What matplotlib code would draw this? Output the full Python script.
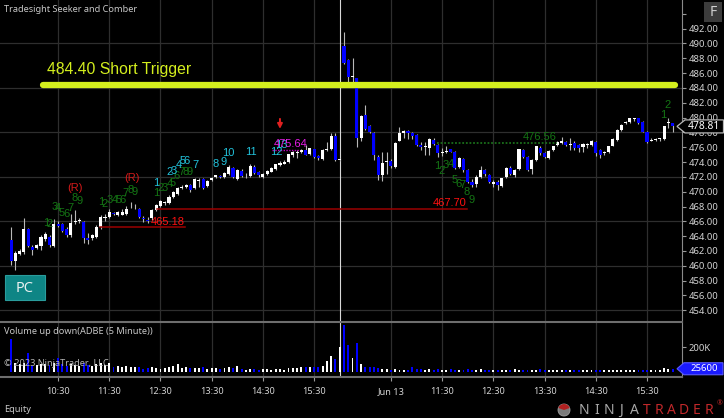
import matplotlib
matplotlib.use("Agg")
import matplotlib.pyplot as plt
from matplotlib.patches import Rectangle, Polygon, Circle, Wedge
import numpy as np

# ---------------- data (ADBE 5-minute bars, two sessions) ----------------
opens = [463.5, 460.6, 461.6, 461.8, 464.9, 462.5, 462.4, 462.7, 463.6, 463.85,
         462.7, 465.7, 465.6, 464.9, 464.15, 465.9, 466.0, 465.95, 463.8, 463.7,
         463.9, 465.2, 466.5, 466.6, 467.1, 466.85, 466.9, 467.0, 467.9, 467.9,
         467.6, 466.4, 466.2, 466.4, 467.55, 468.1, 468.5, 468.5, 469.3, 469.65,
         470.5, 470.6, 470.9, 470.45, 471.5, 471.7, 470.8, 471.6, 471.95, 472.15,
         472.0, 472.4, 473.25, 471.7, 472.8, 472.2, 472.1, 473.4, 472.7, 472.0,
         472.4, 472.7, 473.0, 473.6, 473.8, 474.0, 474.95, 475.2, 475.3, 475.6,
         475.1, 475.7, 474.8, 474.4, 475.6, 475.7, 477.5, 474.3,
         489.65, 487.8, 485.45, 485.3, 477.2, 480.35, 478.8, 477.9, 474.7, 472.3,
         474.0, 474.2, 473.4, 476.9, 477.9, 478.2, 477.9, 477.65, 476.3, 476.0,
         475.9, 477.0, 476.3, 475.2, 475.4, 475.7, 475.4, 473.4, 474.4, 472.9,
         471.35, 471.0, 472.0, 472.9, 472.25, 471.1, 471.35, 470.8, 472.0, 473.25,
         472.25, 473.0, 475.6, 474.65, 473.0, 474.3, 475.9, 475.2, 474.5, 475.6,
         476.3, 476.6, 476.75, 476.3, 476.6, 476.3, 476.0, 476.35, 476.3, 476.75,
         475.6, 475.2, 475.3, 476.2, 477.0, 478.3, 479.25, 479.45, 479.8, 479.9,
         479.45, 478.1, 476.9, 477.0, 477.1, 477.1, 479.3, 479.3]
highs = [465.2, 462.0, 462.3, 466.4, 465.1, 462.8, 463.0, 464.15, 464.6, 464.2,
         466.3, 466.0, 465.8, 465.2, 467.0, 467.5, 466.4, 466.1, 464.4, 464.3,
         465.5, 466.8, 467.0, 467.6, 467.3, 467.4, 467.7, 468.1, 468.65, 468.4,
         467.8, 466.7, 466.6, 467.7, 468.4, 468.9, 468.8, 469.5, 470.1, 470.6,
         470.9, 471.0, 471.0, 471.9, 471.8, 471.8, 471.6, 472.0, 472.3, 472.3,
         472.7, 473.6, 473.4, 473.0, 473.0, 472.5, 473.7, 473.6, 472.8, 472.5,
         472.9, 473.3, 473.8, 474.15, 474.3, 475.1, 475.5, 475.6, 475.7, 476.3,
         475.9, 475.8, 474.95, 475.7, 476.75, 477.9, 477.9, 474.6,
         491.5, 487.9, 488.1, 485.4, 480.4, 481.7, 479.0, 478.0, 474.95, 475.4,
         475.4, 474.4, 476.7, 478.7, 478.3, 478.3, 478.0, 477.8, 476.75, 476.75,
         477.3, 477.3, 476.4, 475.9, 476.1, 475.8, 475.5, 474.7, 474.6, 473.0,
         471.7, 472.2, 473.45, 473.0, 472.4, 471.6, 471.6, 471.9, 473.3, 473.5,
         473.0, 475.8, 475.8, 474.8, 474.4, 476.2, 476.2, 475.3, 475.6, 476.2,
         476.8, 477.4, 476.9, 477.3, 476.8, 476.4, 476.6, 476.6, 477.0, 476.85,
         475.7, 475.5, 476.2, 477.2, 478.4, 479.1, 479.5, 480.0, 480.0, 480.0,
         479.5, 478.2, 477.2, 477.3, 477.3, 478.9, 480.0, 479.3]
lows = [460.1, 459.4, 461.4, 461.6, 462.5, 461.5, 462.2, 462.1, 463.3, 462.6,
        462.5, 465.2, 464.5, 463.9, 463.9, 465.7, 465.8, 463.1, 463.0, 463.5,
        463.7, 465.0, 466.1, 466.4, 466.8, 466.7, 466.8, 466.8, 467.75, 467.7,
        466.4, 465.95, 465.8, 466.2, 467.4, 468.0, 468.2, 468.3, 469.1, 469.5,
        470.3, 470.5, 470.0, 470.3, 470.7, 470.4, 470.6, 471.4, 471.8, 471.9,
        471.9, 472.3, 471.8, 471.6, 472.0, 471.8, 472.0, 472.4, 471.95, 471.9,
        472.3, 472.6, 472.9, 473.5, 473.7, 473.9, 474.7, 474.5, 475.2, 474.9,
        474.9, 474.5, 474.3, 474.3, 475.5, 475.6, 474.2, 474.2,
        487.3, 484.7, 484.7, 476.0, 476.9, 478.3, 477.9, 474.3, 471.6, 471.5,
        472.4, 473.2, 473.2, 476.8, 477.2, 477.1, 477.1, 476.2, 475.6, 474.95,
        475.0, 476.3, 474.7, 474.8, 475.2, 475.3, 473.0, 473.2, 472.7, 471.2,
        470.6, 470.6, 471.9, 472.1, 471.2, 470.7, 470.25, 470.6, 471.9, 472.2,
        472.0, 472.9, 474.5, 472.8, 472.4, 474.1, 474.9, 474.5, 474.4, 475.5,
        476.2, 476.5, 476.2, 475.6, 475.6, 475.4, 475.4, 475.9, 476.2, 474.8,
        474.6, 474.9, 475.2, 476.1, 476.9, 478.2, 479.1, 479.3, 479.6, 479.2,
        478.0, 476.6, 476.8, 476.9, 476.9, 477.0, 478.6, 478.1]
closes = [460.6, 461.7, 462.0, 464.9, 462.7, 462.15, 462.8, 463.9, 464.3, 462.8,
          465.6, 465.4, 464.7, 464.15, 465.8, 466.1, 466.2, 463.7, 463.5, 464.15,
          465.3, 466.55, 466.6, 467.3, 467.0, 467.2, 467.2, 467.6, 468.0, 467.95,
          466.55, 466.3, 466.1, 467.55, 468.2, 468.75, 468.6, 469.3, 470.0, 470.45,
          470.6, 470.9, 470.2, 471.7, 471.6, 470.5, 471.45, 471.9, 472.2, 472.05,
          472.5, 473.4, 471.95, 472.9, 472.1, 472.3, 473.5, 472.5, 472.25, 472.4,
          472.8, 473.2, 473.7, 473.9, 474.05, 475.05, 475.3, 475.4, 475.6, 474.95,
          475.85, 474.65, 474.5, 475.6, 475.7, 477.5, 474.3, 474.45,
          487.4, 485.45, 485.6, 477.2, 480.2, 478.4, 478.0, 474.95, 472.3, 473.9,
          474.1, 473.45, 476.6, 477.9, 478.2, 477.9, 477.5, 476.3, 476.0, 476.15,
          477.1, 476.45, 475.2, 475.35, 475.5, 475.4, 473.15, 474.5, 472.9, 471.35,
          470.9, 472.0, 472.9, 472.4, 471.35, 471.35, 470.9, 471.8, 473.25, 472.4,
          472.9, 475.7, 474.65, 472.9, 474.3, 476.1, 475.2, 474.65, 475.5, 476.1,
          476.75, 476.9, 476.3, 476.4, 475.85, 475.85, 476.4, 476.45, 476.85, 475.2,
          474.95, 475.4, 476.1, 477.1, 478.3, 479.0, 479.45, 479.9, 479.85, 479.3,
          478.1, 476.75, 477.0, 477.1, 477.15, 478.8, 479.45, 478.81]
# volume in thousands of shares
volumes_k = [264, 70, 62, 75, 152, 50, 58, 66, 60, 55,
             70, 112, 60, 48, 62, 55, 50, 71, 58, 45,
             60, 70, 55, 72, 40, 45, 42, 44, 40, 38,
             39, 26, 30, 36, 34, 26, 30, 40, 44, 66,
             30, 38, 31, 34, 31, 36, 26, 30, 28, 23,
             31, 38, 28, 44, 22, 18, 24, 20, 18, 20,
             26, 18, 20, 22, 18, 31, 30, 31, 36, 39,
             36, 39, 39, 44, 92, 125, 104, 205,
             379, 219, 112, 232, 66, 39, 36, 36, 31, 26,
             23, 18, 26, 18, 18, 18, 39, 26, 23, 18,
             20, 16, 22, 18, 15, 20, 17, 14, 18, 22,
             16, 14, 20, 18, 15, 13, 17, 19, 14, 16,
             21, 15, 13, 18, 16, 14, 20, 17, 15, 19,
             13, 16, 18, 14, 15, 17, 13, 16, 15, 14,
             18, 16, 13, 15, 17, 14, 16, 15, 13, 16,
             14, 15, 17, 16, 19, 28, 22, 25.6]

hour_ticks = [11, 23, 35, 47, 59, 71, 89, 101, 113, 125, 137, 149]
hour_labels = ["10:30", "11:30", "12:30", "13:30", "14:30", "15:30",
               "Jun 13", "11:30", "12:30", "13:30", "14:30", "15:30"]
session_break = 77
price_ticks = [454, 456, 458, 460, 462, 464, 466, 468, 470, 472, 474, 476,
               478, 480, 482, 484, 486, 488, 490, 492, 494]
grid_prices = [454, 460, 466, 472, 478, 484, 490]

trigger_price = 484.40
trigger_span = (7.4, 155.6)
trigger_text = "484.40 Short Trigger"

# setup count labels: (text, bar, price)
green_counts = [("1", 8.2, 465.8), ("2", 9.1, 465.6), ("3", 10.1, 468.0), ("4", 10.9, 467.8),
                ("5", 11.9, 467.1), ("6", 12.9, 467.0), ("7", 14.0, 467.8), ("8", 15.0, 469.1),
                ("9", 16.0, 468.7),
                ("1", 21.1, 468.6), ("2", 22.0, 468.4), ("3", 23.2, 468.9), ("4", 24.2, 468.9),
                ("5", 25.1, 468.9), ("6", 26.2, 468.9), ("7", 26.9, 469.8), ("8", 28.0, 470.2),
                ("9", 29.0, 470.0),
                ("1", 34.1, 469.8), ("2", 35.1, 470.5), ("3", 36.1, 470.5), ("4", 37.1, 471.1),
                ("5", 37.9, 471.2), ("6", 38.8, 472.1), ("7", 40.0, 472.7), ("8", 41.0, 472.7),
                ("9", 41.9, 472.7),
                ("1", 99.9, 473.5), ("2", 100.9, 472.8), ("3", 101.9, 473.6), ("4", 103.0, 473.8),
                ("5", 103.9, 471.6), ("6", 104.8, 471.1), ("7", 105.8, 470.9), ("8", 106.8, 470.0),
                ("9", 107.9, 468.9),
                ("1", 152.8, 480.35), ("2", 153.8, 481.7)]
cyan_counts = [("1", 34.1, 471.2), ("2", 37.1, 472.6), ("3", 38.0, 472.8), ("4", 39.2, 473.6),
               ("5", 40.2, 474.1), ("6", 41.2, 474.1), ("7", 43.1, 473.6), ("8", 48.0, 473.8),
               ("9", 49.9, 474.05), ("10", 50.9, 475.2), ("11", 56.2, 475.3), ("12", 62.1, 475.3),
               ("13", 63.4, 476.3)]
reversal_marks = [("(R)", 15.0, 470.5), ("(R)", 28.3, 471.8)]

red_levels = [(465.18, 20.9, 40.8), (467.70, 34.2, 106.8)]
green_level = (476.56, 99.8, 127.9)
magenta_level = (475.64, 61.1, 67.7)
arrow_bar, arrow_top, arrow_tip = 63, 480.2, 478.1

# ---------------- figure ----------------
plt.rcParams['font.family'] = ['Noto Sans', 'DejaVu Sans']
W, H = 724, 418
fig = plt.figure(figsize=(W / 100, H / 100), dpi=100, facecolor='black')


def box(x0, y0, x1, y1):
    return [x0 / W, 1 - y1 / H, (x1 - x0) / W, (y1 - y0) / H]


ax = fig.add_axes(box(0, 0, 682, 321))
axv = fig.add_axes(box(0, 322, 682, 377))
for a in (ax, axv):
    a.set_facecolor('black')
    a.set_xlim(-2.6, 157.2)
    for s in ('left', 'top', 'bottom'):
        a.spines[s].set_visible(False)
    a.spines['right'].set_color('#8a8a8a')
    a.spines['right'].set_linewidth(0.8)
    for t in hour_ticks:
        a.axvline(t, color='#2e2e2e', lw=0.9, zorder=0)
    a.axvline(session_break, color='#d8d8d8', lw=0.8, zorder=1)

ax.set_ylim(452.55, 495.87)
for g in grid_prices:
    ax.axhline(g, color='#2e2e2e', lw=0.9, zorder=0)

O = np.array(opens); Hh = np.array(highs); L = np.array(lows); C = np.array(closes)
idx = np.arange(len(C))
up = C >= O
ax.vlines(idx, L, Hh, color='#b8b8b8', lw=0.8, zorder=2)
bottom = np.minimum(O, C)
height = np.maximum(np.abs(C - O), 0.1)
ax.bar(idx[up], height[up], bottom=bottom[up], width=0.72, color='white', linewidth=0, zorder=3)
ax.bar(idx[~up], height[~up], bottom=bottom[~up], width=0.72, color='#0000ff', linewidth=0, zorder=3)

ax.yaxis.tick_right()
ax.set_yticks(price_ticks)
ax.set_yticklabels([f"{p:.2f}" if p < 494 else "" for p in price_ticks])
ax.tick_params(axis='y', colors='#9a9a9a', labelcolor='#d4d4d4', labelsize=6.8,
               length=3, width=0.8, pad=2)
ax.tick_params(axis='x', bottom=False, labelbottom=False)

# short trigger
ax.plot(trigger_span, [trigger_price, trigger_price], color='#d4ef1e', lw=4.5,
        solid_capstyle='round', zorder=5)
ax.text(8.4, trigger_price + 2.05, trigger_text, color='#d4ef1e', fontsize=11.3,
        family=['Liberation Sans', 'DejaVu Sans'], va='center', ha='left', zorder=6)

narrow = ['Liberation Sans', 'DejaVu Sans']
fs = 8.0
for txt, b, p in green_counts:
    ax.text(b, p, txt, color='#147414', fontsize=fs, family=narrow, ha='center', va='center', zorder=6)
for txt, b, p in cyan_counts:
    ax.text(b, p, txt, color='#22c3dc', fontsize=fs, family=narrow, ha='center', va='center', zorder=6)
for txt, b, p in reversal_marks:
    ax.text(b, p, txt, color='#d41a1a', fontsize=fs, family=narrow, ha='center', va='center', zorder=6)

for lvl, b0, b1 in red_levels:
    ax.plot([b0, b1], [lvl, lvl], color='#9b0000', lw=1.1, zorder=4)
    ax.text(b1, lvl + 0.12, f"{lvl:.2f}", color='#ff1010', fontsize=fs, family=narrow,
            ha='right', va='bottom', zorder=6)
lvl, b0, b1 = green_level
ax.plot([b0, b1], [lvl, lvl], color='#1a6e1a', lw=1.3, ls=(0, (1, 1)), zorder=4)
ax.text(b1, lvl + 0.12, f"{lvl:.2f}", color='#147414', fontsize=fs, family=narrow,
        ha='right', va='bottom', zorder=6)
lvl, b0, b1 = magenta_level
ax.plot([b0, b1], [lvl, lvl], color='#c000c0', lw=1.0, ls=(0, (1, 1)), zorder=4)
ax.text((b0 + b1) / 2 + 1, lvl + 0.1, f"{lvl:.2f}", color='#e81ce8', fontsize=fs, family=narrow,
        ha='center', va='bottom', zorder=6)
ax.annotate('', xy=(arrow_bar, arrow_tip), xytext=(arrow_bar, arrow_top),
            arrowprops=dict(arrowstyle='-|>', color='#e02020', lw=1.4, mutation_scale=7), zorder=6)

ax.text(0.006, 0.985, "Tradesight Seeker and Comber", transform=ax.transAxes, color='#c8c8c8',
        fontsize=6.6, ha='left', va='top')

# ---------------- volume pane ----------------
V = np.array(volumes_k)
axv.set_ylim(-41, 403)
axv.bar(idx, V, width=0.45, color=np.where(up, 'white', '#0000ff'), linewidth=0, zorder=3)
axv.spines['top'].set_visible(True)
axv.spines['top'].set_color('#6e6e6e')
axv.spines['top'].set_linewidth(1.5)
axv.spines['bottom'].set_visible(True)
axv.spines['bottom'].set_color('#6e6e6e')
axv.spines['bottom'].set_linewidth(1.5)
axv.yaxis.tick_right()
axv.set_yticks([200])
axv.set_yticklabels(["200K"])
axv.tick_params(axis='y', colors='#9a9a9a', labelcolor='#d4d4d4', labelsize=6.8,
                length=3, width=0.8, pad=2)
axv.set_xticks(hour_ticks)
axv.set_xticklabels(hour_labels)
axv.tick_params(axis='x', colors='#9a9a9a', labelcolor='#d4d4d4', labelsize=6.6,
                length=3, width=0.8, pad=4)
axv.text(0.006, 0.82, "Volume up down(ADBE (5 Minute))", transform=axv.transAxes,
         color='#c8c8c8', fontsize=6.6, ha='left', va='center', zorder=6)
axv.text(0.006, 0.24, "\u00a9 2023 NinjaTrader, LLC", transform=axv.transAxes,
         color='#b4b4b4', fontsize=6.6, ha='left', va='center', zorder=6)

# ---------------- overlay in pixel coordinates ----------------
ov = fig.add_axes([0, 0, 1, 1], zorder=10)
ov.set_xlim(0, W)
ov.set_ylim(H, 0)
ov.axis('off')
ov.patch.set_alpha(0)

# last price marker
yc = H - ax.transData.transform((0, closes[-1]))[1]
ov.add_patch(Polygon([(677, yc), (685, yc - 6.5), (723.5, yc - 6.5), (723.5, yc + 6.5), (685, yc + 6.5)],
                     closed=True, facecolor='black', edgecolor='#b8b8b8', lw=0.9))
ov.text(704, yc, f"{closes[-1]:.2f}", color='white', fontsize=7.4, ha='center', va='center')

# last volume marker
yv = H - axv.transData.transform((0, volumes_k[-1]))[1]
ov.add_patch(Polygon([(677, yv), (684, yv - 6), (723, yv - 6), (723, yv + 6), (684, yv + 6)],
                     closed=True, facecolor='#1a1aff', edgecolor='#5a5aff', lw=0.8))
ov.text(704, yv, f"{int(round(volumes_k[-1] * 1000))}", color='white', fontsize=6.9,
        ha='center', va='center')

# F button
ov.add_patch(Rectangle((704, 2), 18, 20, facecolor='#3c3c3c', edgecolor='none'))
ov.text(713, 12.5, "F", color='#d0d0d0', fontsize=10, ha='center', va='center')

# PC button
ov.add_patch(Rectangle((5, 275), 40, 25, facecolor='#0e8585', edgecolor='#2a9c9c', lw=0.8))
ov.text(25, 288, "PC", color='#e6f0f0', fontsize=10.5, ha='center', va='center')

# footer
ov.text(4, 410, "Equity", color='#c8c8c8', fontsize=6.6, ha='left', va='center')
ov.add_patch(Circle((564, 410), 6, facecolor='#7a7a7a', edgecolor='#a0a0a0', lw=0.6))
ov.add_patch(Wedge((564, 410), 6, 200, 340, facecolor='#b02020', edgecolor='none'))
for k, ch in enumerate("NINJATRADER"):
    ov.text(584 + 12.5 * k, 410.5, ch, color='#a8a8a8' if k < 5 else '#c0282a',
            fontsize=10, ha='center', va='center', fontweight='light')
ov.text(720, 404, "\u00ae", color='#c0282a', fontsize=5, ha='center', va='center')

fig.savefig("out.png", dpi=100, facecolor='black')
